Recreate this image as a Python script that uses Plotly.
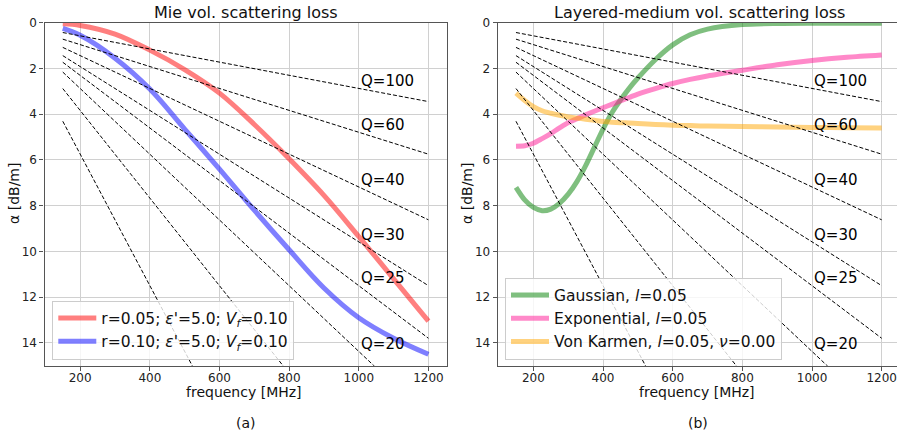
import plotly.graph_objects as go

# ---------------- data ----------------
f_mie = [150, 200, 300, 400, 500, 600, 700, 800, 900, 1000, 1100, 1200]
mie_r005 = [0.05, 0.12, 0.5, 1.2, 2.05, 3.08, 4.45, 5.95, 7.55, 9.35, 11.2, 13.05]
mie_r010 = [0.25, 0.55, 1.55, 2.9, 4.65, 6.4, 8.2, 9.93, 11.6, 12.9, 13.8, 14.5]

f_lay = [150, 175, 200, 225, 250, 275, 300, 325, 350, 375, 400, 425, 450, 475, 500, 550, 600, 650, 700, 800, 900, 1000, 1100, 1200]
gaussian = [7.2, 7.75, 8.08, 8.22, 8.15, 7.9, 7.5, 6.95, 6.25, 5.45, 4.65, 3.95, 3.38, 2.87, 2.42, 1.62, 0.97, 0.53, 0.28, 0.08, 0.03, 0.02, 0.02, 0.02]
exponential = [5.4, 5.38, 5.27, 5.07, 4.85, 4.6, 4.37, 4.2, 4.03, 3.87, 3.72, 3.57, 3.42, 3.27, 3.12, 2.88, 2.66, 2.48, 2.33, 2.08, 1.84, 1.65, 1.51, 1.41]
vonkarmen = [3.08, 3.4, 3.67, 3.85, 3.96, 4.05, 4.12, 4.17, 4.22, 4.27, 4.32, 4.35, 4.37, 4.39, 4.41, 4.45, 4.48, 4.5, 4.52, 4.54, 4.56, 4.58, 4.59, 4.6]

# constant-Q reference lines (straight): alpha at the two end frequencies
q_f_ends = [150, 1200]
q_values = [100, 60, 40, 30, 25, 20, 15, 10]
q_alpha_start = [0.43, 0.72, 1.08, 1.44, 1.73, 2.16, 2.88, 4.31]
q_alpha_end = [3.45, 5.75, 8.62, 11.5, 13.8, 17.25, 23.0, 34.5]
q_label_text = ["Q=100", "Q=60", "Q=40", "Q=30", "Q=25", "Q=20"]
q_label_f = 1000
q_label_y = [2.55, 4.47, 6.87, 9.27, 11.16, 14.03]

mie_names = ["r=0.05; <i>ε</i>'=5.0; <i>V<sub>f</sub></i>=0.10",
             "r=0.10; <i>ε</i>'=5.0; <i>V<sub>f</sub></i>=0.10"]
lay_names = ["Gaussian, <i>l</i>=0.05", "Exponential, <i>l</i>=0.05",
             "Von Karmen, <i>l</i>=0.05, <i>ν</i>=0.00"]

# ---------------- figure ----------------
W, H = 897, 437
FONT = "DejaVu Sans"
fig = go.Figure()

def px_x(p):
    return p / W

def px_y(p):
    return 1 - p / H

# curves
fig.add_trace(go.Scatter(x=f_mie, y=mie_r005, mode="lines", line=dict(color="rgba(255,0,0,0.5)", width=5, shape="spline"),
                         name=mie_names[0], xaxis="x", yaxis="y", legend="legend"))
fig.add_trace(go.Scatter(x=f_mie, y=mie_r010, mode="lines", line=dict(color="rgba(0,0,255,0.5)", width=5, shape="spline"),
                         name=mie_names[1], xaxis="x", yaxis="y", legend="legend"))
lay_series = [gaussian, exponential, vonkarmen]
lay_colors = ["rgba(0,128,0,0.5)", "rgba(255,20,147,0.5)", "rgba(255,165,0,0.5)"]
for s, c, n in zip(lay_series, lay_colors, lay_names):
    fig.add_trace(go.Scatter(x=f_lay, y=s, mode="lines", line=dict(color=c, width=5, shape="spline", smoothing=0.8),
                             name=n, xaxis="x2", yaxis="y2", legend="legend2"))

# Q lines on top
for ax in [("x", "y"), ("x2", "y2")]:
    for a0, a1 in zip(q_alpha_start, q_alpha_end):
        fig.add_trace(go.Scatter(x=q_f_ends, y=[a0, a1], mode="lines",
                                 line=dict(color="black", width=1, dash="4px,2px"),
                                 showlegend=False, hoverinfo="skip", xaxis=ax[0], yaxis=ax[1]))

annotations = []
for xr, yr in [("x", "y"), ("x2", "y2")]:
    for t, yv in zip(q_label_text, q_label_y):
        annotations.append(dict(x=q_label_f, y=yv, xref=xr, yref=yr, text=t, showarrow=False,
                                xanchor="left", yanchor="middle", font=dict(size=15, color="black", family=FONT)))

left_dom = [px_x(44.5), px_x(446.7)]
right_dom = [px_x(497.7), 1.0]
ydom = [px_y(365.7), px_y(22.7)]

texts = [
    ("Mie vol. scattering loss", 245.6, 12, 16, 0),
    ("Layered-medium vol. scattering loss", 699, 12, 16, 0),
    ("frequency [MHz]", 244, 392, 14, 0),
    ("frequency [MHz]", 697, 392, 14, 0),
    ("(a)", 245.7, 423, 14, 0),
    ("(b)", 698.3, 423, 14, 0),
    ("α [dB/m]", 14, 194, 14, -90),
    ("α [dB/m]", 467, 194, 14, -90),
]
for t, x, y, s, rot in texts:
    annotations.append(dict(x=px_x(x), y=px_y(y), xref="paper", yref="paper", text=t, showarrow=False,
                            xanchor="center", yanchor="middle", textangle=rot,
                            font=dict(size=s, color="#111", family=FONT)))

axis_common = dict(showgrid=True, gridcolor="#d0d0d0", gridwidth=1, showline=True, linecolor="#555",
                   linewidth=1.2, ticks="outside", ticklen=4, tickcolor="#555", zeroline=False,
                   tickfont=dict(size=12, color="#222", family=FONT), automargin=False)

fig.update_layout(
    width=W, height=H, autosize=False,
    margin=dict(l=0, r=0, t=0, b=0),
    paper_bgcolor="white", plot_bgcolor="white",
    font=dict(family=FONT),
    xaxis=dict(domain=left_dom, range=[97.5, 1252.5], tickvals=[200, 400, 600, 800, 1000, 1200],
               mirror=True, anchor="y", ticklabelstandoff=-3, **axis_common),
    yaxis=dict(domain=ydom, range=[15, 0], tickvals=[0, 2, 4, 6, 8, 10, 12, 14], mirror=True,
               anchor="x", **axis_common),
    xaxis2=dict(domain=right_dom, range=[97.5, 1244], tickvals=[200, 400, 600, 800, 1000, 1200],
                mirror=True, anchor="y2", ticklabelstandoff=-3, **axis_common),
    yaxis2=dict(domain=ydom, range=[15, 0], tickvals=[0, 2, 4, 6, 8, 10, 12, 14], mirror=False,
                anchor="x2", **axis_common),
    legend=dict(x=px_x(52.3), y=px_y(359.5), xanchor="left", yanchor="bottom",
                bgcolor="rgba(255,255,255,0.8)", bordercolor="#cccccc", borderwidth=1,
                font=dict(size=15.5, color="#111", family=FONT), itemwidth=38),
    legend2=dict(x=px_x(505), y=px_y(359.5), xanchor="left", yanchor="bottom",
                 bgcolor="rgba(255,255,255,0.8)", bordercolor="#cccccc", borderwidth=1,
                 font=dict(size=15.5, color="#111", family=FONT), itemwidth=38),
    annotations=annotations,
    showlegend=True,
)

fig.write_html("out.html")
